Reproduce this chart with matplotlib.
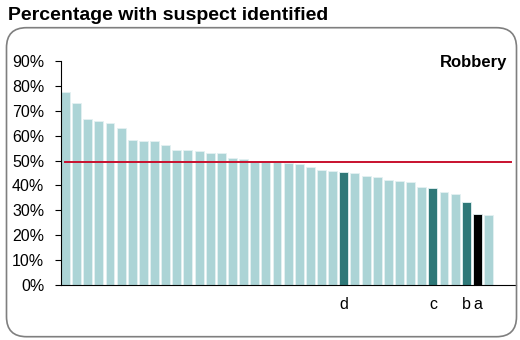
import matplotlib.pyplot as plt
from matplotlib.patches import FancyBboxPatch

plt.rcParams['font.family'] = ['Liberation Sans', 'DejaVu Sans']

# percentage of robberies with a suspect identified, one value per force, sorted
values = [77.5, 73.3, 66.8, 65.9, 64.9, 62.9, 58.4, 57.9, 57.9, 56.4,
          54.4, 54.1, 53.7, 53.2, 53.1, 51.2, 50.7, 50.0, 49.6, 49.5,
          49.1, 48.7, 47.6, 46.1, 45.7, 45.2, 44.9, 43.9, 43.5, 42.3,
          41.6, 41.5, 39.5, 38.8, 37.2, 36.5, 33.2, 28.4, 28.0]
# highlighted bars: index -> (label, colour)
highlight = {25: ('d', '#2f7878'), 33: ('c', '#2f7878'),
             36: ('b', '#2f7878'), 37: ('a', '#000000')}
average = 49.5
panel_label = 'Robbery'
title = 'Percentage with suspect identified'

light = '#acd4d6'
colors = [highlight[i][1] if i in highlight else light for i in range(len(values))]

fig = plt.figure(figsize=(5.2, 3.4), dpi=100)
ax = fig.add_axes([0.1173, 0.1618, 0.8747, 0.6588])

ax.bar(range(len(values)), values, width=0.8, color=colors,
       edgecolor='#e4f1f2', linewidth=0.6)
ax.axhline(average, xmin=0.009, xmax=0.989, color='#c8102e', lw=1.4)

ax.set_xlim(-0.4, 40.45)
ax.set_ylim(0, 90)
ax.set_yticks(range(0, 91, 10))
ax.set_yticklabels([f'{v}%' for v in range(0, 91, 10)], fontsize=11.5)
idx = sorted(highlight)
ax.set_xticks(idx)
ax.set_xticklabels([highlight[i][0] for i in idx], fontsize=11.5)
ax.tick_params(axis='x', length=0, pad=9)
ax.tick_params(axis='y', length=4, width=0.8, direction='out', pad=8)

for s in ['top', 'right']:
    ax.spines[s].set_visible(False)
ax.spines['left'].set_linewidth(0.8)
ax.spines['bottom'].set_linewidth(0.8)

ax.text(0.982, 0.973, panel_label, transform=ax.transAxes, ha='right',
        va='baseline', fontsize=12, fontweight='bold')

fig.text(0.015, 0.955, title, fontsize=14, fontweight='bold', va='center')

frame = FancyBboxPatch((0.065, 0.033), 5.10, 3.09,
                       boxstyle='round,pad=0,rounding_size=0.2',
                       transform=fig.dpi_scale_trans, facecolor='none',
                       edgecolor='#7f7f7f', linewidth=1.2)
fig.patches.append(frame)

fig.savefig('out.png', dpi=100)
